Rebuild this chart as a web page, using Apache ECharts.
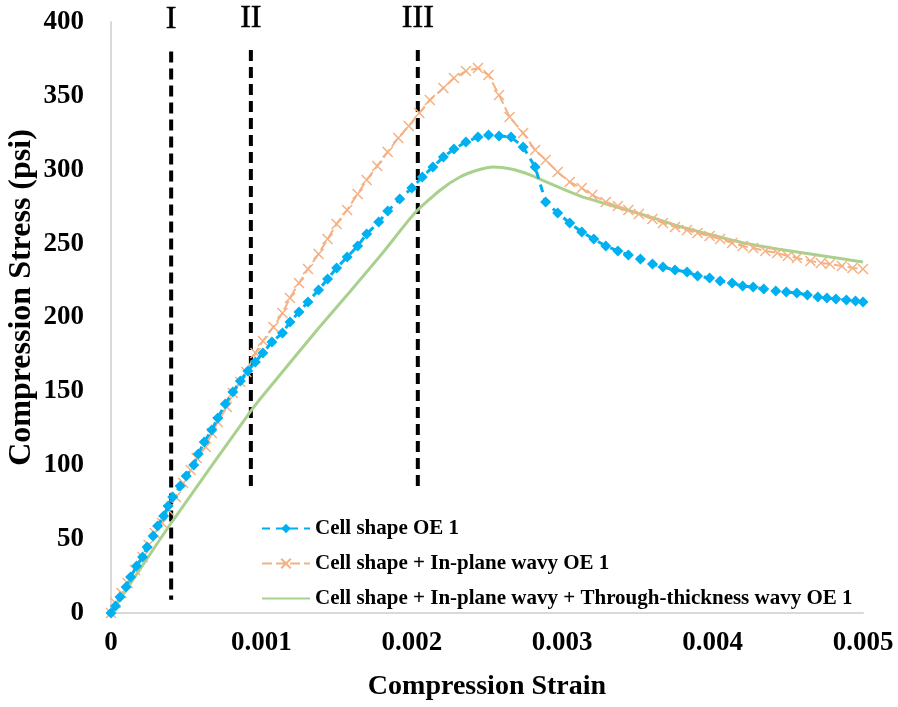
<!DOCTYPE html>
<html>
<head>
<meta charset="utf-8">
<script src="https://cdn.jsdelivr.net/npm/echarts@6/dist/echarts.min.js"></script>
<style>
  html, body { margin: 0; padding: 0; background: #fff; }
  #chart { width: 898px; height: 707px; }
</style>
</head>
<body>
<div id="chart"></div>
<script>
// Cell shape OE 1
var blueStrain = [0, 0.00003, 0.00006, 0.00010, 0.00013, 0.00017, 0.00021, 0.00024, 0.00028, 0.00031, 0.00035, 0.00038, 0.00041, 0.00046, 0.00050, 0.00055, 0.00058, 0.00062, 0.00067, 0.00071, 0.00076, 0.00081, 0.00086, 0.00091, 0.00096, 0.00101, 0.00107, 0.00114, 0.00119, 0.00125, 0.00131, 0.00138, 0.00144, 0.00150, 0.00157, 0.00164, 0.00170, 0.00178, 0.00184, 0.00192, 0.00200, 0.00207, 0.00214, 0.00221, 0.00228, 0.00236, 0.00244, 0.00251, 0.00258, 0.00266, 0.00274, 0.00282, 0.00289, 0.00297, 0.00305, 0.00313, 0.00321, 0.00329, 0.00337, 0.00344, 0.00352, 0.00360, 0.00367, 0.00375, 0.00383, 0.00390, 0.00398, 0.00405, 0.00413, 0.00420, 0.00427, 0.00434, 0.00442, 0.00449, 0.00456, 0.00463, 0.00470, 0.00476, 0.00482, 0.00489, 0.00495, 0.00500];
var blueStress = [0, 4.7, 10.8, 17.6, 24.4, 31.8, 37.9, 44.7, 52.1, 58.9, 65.7, 72.4, 78.5, 86.0, 92.7, 100.2, 107.6, 115.7, 123.9, 132.0, 141.5, 149.6, 157.0, 163.8, 169.9, 176.0, 183.4, 189.5, 197.0, 203.7, 210.5, 218.6, 226.1, 233.5, 240.9, 248.4, 256.5, 264.6, 272.1, 280.2, 287.6, 295.1, 301.9, 308.6, 314.0, 318.8, 322.2, 323.5, 322.8, 322.2, 315.4, 301.9, 278.2, 270.7, 264.0, 257.9, 253.1, 248.4, 245.0, 242.3, 239.6, 236.2, 234.2, 232.1, 230.8, 228.1, 226.7, 224.7, 223.4, 221.3, 220.6, 219.3, 217.9, 217.3, 216.6, 215.2, 213.9, 213.2, 212.5, 211.8, 211.2, 210.5];

// Cell shape + In-plane wavy OE 1
var orangeStrain = [0, 0.00003, 0.00007, 0.00011, 0.00016, 0.00021, 0.00025, 0.00029, 0.00034, 0.00038, 0.00043, 0.00048, 0.00053, 0.00057, 0.00063, 0.00067, 0.00071, 0.00077, 0.00081, 0.00086, 0.00090, 0.00096, 0.00101, 0.00108, 0.00114, 0.00119, 0.00125, 0.00131, 0.00138, 0.00144, 0.00150, 0.00157, 0.00164, 0.00170, 0.00177, 0.00184, 0.00191, 0.00198, 0.00205, 0.00212, 0.00221, 0.00228, 0.00236, 0.00244, 0.00251, 0.00258, 0.00265, 0.00274, 0.00282, 0.00289, 0.00297, 0.00305, 0.00313, 0.00320, 0.00329, 0.00337, 0.00344, 0.00351, 0.00360, 0.00367, 0.00375, 0.00383, 0.00390, 0.00398, 0.00405, 0.00413, 0.00420, 0.00427, 0.00435, 0.00443, 0.00450, 0.00456, 0.00465, 0.00472, 0.00478, 0.00486, 0.00493, 0.00500];
var orangeStress = [0, 6.8, 13.5, 20.3, 29.1, 37.9, 46.0, 54.1, 60.9, 69.7, 78.5, 88.0, 96.8, 104.9, 112.4, 121.8, 129.3, 139.4, 148.9, 156.3, 163.1, 176.0, 184.1, 193.6, 203.0, 213.2, 223.4, 232.8, 243.0, 253.1, 263.3, 272.8, 283.6, 293.1, 302.5, 312.0, 321.5, 329.6, 338.4, 347.2, 355.3, 362.1, 366.8, 368.9, 364.1, 350.6, 335.7, 324.9, 313.4, 306.6, 298.5, 291.7, 287.6, 282.9, 278.2, 275.5, 272.8, 270.1, 266.7, 264.0, 261.3, 259.2, 257.2, 255.2, 253.1, 250.4, 248.4, 247.0, 245.0, 243.7, 241.6, 240.3, 238.2, 236.9, 236.2, 234.9, 233.5, 232.8];

// Cell shape + In-plane wavy + Through-thickness wavy OE 1
var greenStrain = [0, 0.00040, 0.00094, 0.00109, 0.00137, 0.00159, 0.00181, 0.00202, 0.00219, 0.00232, 0.00244, 0.00254, 0.00266, 0.00279, 0.00294, 0.00312, 0.00325, 0.00343, 0.00361, 0.00379, 0.00397, 0.00421, 0.00443, 0.00465, 0.00487, 0.00500];
var greenStress = [0, 60.9, 138.1, 157.0, 191.5, 217.6, 244.2, 270.7, 286.3, 295.1, 299.8, 301.9, 300.5, 296.4, 289.7, 282.2, 278.2, 272.8, 267.3, 261.3, 256.5, 250.4, 246.4, 243.0, 239.6, 237.6];

// stage markers
var stageNames = ['I', 'II', 'III'];
var stageStrain = [0.0004, 0.00093, 0.00204];
var stageTop = [380, 381, 381];
var stageBottom = [9, 83, 83];

var seriesNames = [
  'Cell shape OE 1',
  'Cell shape + In-plane wavy OE 1',
  'Cell shape + In-plane wavy + Through-thickness wavy OE 1'
];

var FONT = '"Liberation Serif", "Times New Roman", serif';

function pairs(xs, ys) {
  return xs.map(function(x, i) { return [x, ys[i]]; });
}

var chart = echarts.init(document.getElementById('chart'));

var stageSeries = stageNames.map(function(name, i) {
  return {
    type: 'line',
    name: 'stage-' + name,
    silent: true,
    clip: false,
    symbol: 'none',
    z: 1,
    lineStyle: { color: '#000', width: 4, type: [11, 6] },
    data: [[stageStrain[i], stageTop[i]], [stageStrain[i], stageBottom[i]]]
  };
});

// the roman numerals above each dashed line
var stageLabels = {
  type: 'scatter',
  name: 'stage-labels',
  silent: true,
  clip: false,
  symbolSize: 1,
  itemStyle: { color: 'rgba(0,0,0,0)' },
  label: {
    show: true,
    position: 'top',
    distance: 15,
    fontFamily: FONT,
    fontSize: 32,
    color: '#000',
    opacity: 1,
    textBorderColor: '#000',
    textBorderWidth: 0.6,
    formatter: function(p) { return stageNames[p.dataIndex]; }
  },
  data: pairs(stageStrain, stageTop)
};

var option = {
  animation: false,
  backgroundColor: '#fff',
  grid: { left: 111, right: 35, top: 22, bottom: 94, containLabel: false, outerBoundsMode: 'none' },
  legend: {
    data: [
      seriesNames[0],
      seriesNames[1],
      { name: seriesNames[2], itemStyle: { opacity: 0 } }
    ],
    orient: 'vertical',
    left: 256,
    top: 513,
    itemGap: 14,
    itemWidth: 48,
    itemHeight: 12,
    textStyle: { fontFamily: FONT, fontWeight: 'bold', fontSize: 21, color: '#000' }
  },
  xAxis: {
    type: 'value',
    min: 0,
    max: 0.005,
    interval: 0.001,
    name: 'Compression Strain',
    nameLocation: 'middle',
    nameGap: 60,
    nameMoveOverlap: false,
    nameTextStyle: { fontFamily: FONT, fontWeight: 'bold', fontSize: 28, color: '#000' },
    axisLine: { show: true, lineStyle: { color: '#D9D9D9', width: 2 } },
    axisTick: { show: false },
    splitLine: { show: false },
    axisLabel: {
      margin: 17,
      fontFamily: FONT,
      fontWeight: 'bold',
      fontSize: 27,
      color: '#000',
      formatter: function(v) { return String(+v.toFixed(3)); }
    }
  },
  yAxis: {
    type: 'value',
    min: 0,
    max: 400,
    interval: 50,
    name: 'Compression Stress (psi)',
    nameLocation: 'middle',
    nameGap: 73,
    nameMoveOverlap: false,
    nameTextStyle: {
      fontFamily: FONT, fontWeight: 'bold', fontSize: 32, color: '#000',
      padding: [0, 0, 0, 40]
    },
    axisLine: { show: true, lineStyle: { color: '#D9D9D9', width: 2 } },
    axisTick: { show: false },
    splitLine: { show: false },
    axisLabel: { margin: 27, fontFamily: FONT, fontWeight: 'bold', fontSize: 27, color: '#000' }
  },
  series: stageSeries.concat([
    stageLabels,
    {
      type: 'line',
      name: seriesNames[0],
      z: 4,
      symbol: 'diamond',
      symbolSize: 11,
      itemStyle: { color: '#00B0F0' },
      lineStyle: { color: '#00B0F0', width: 3, type: [8, 6] },
      data: pairs(blueStrain, blueStress)
    },
    {
      type: 'line',
      name: seriesNames[1],
      z: 3,
      symbol: 'path://M0,0L10,10M10,0L0,10',
      symbolSize: 10,
      itemStyle: { color: '#F4B183', borderColor: '#F4B183', borderWidth: 1.5 },
      lineStyle: { color: '#F4B183', width: 2, type: [10, 4] },
      data: pairs(orangeStrain, orangeStress)
    },
    {
      type: 'line',
      name: seriesNames[2],
      z: 2,
      symbol: 'none',
      smooth: 0.2,
      itemStyle: { color: '#A9D18E' },
      lineStyle: { color: '#A9D18E', width: 3 },
      data: pairs(greenStrain, greenStress)
    }
  ])
};

chart.setOption(option);
</script>
</body>
</html>
